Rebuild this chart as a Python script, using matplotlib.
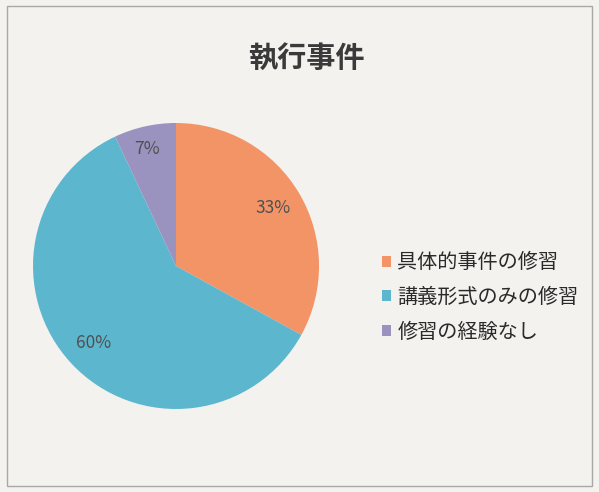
import matplotlib.pyplot as plt
from matplotlib.patches import Rectangle

plt.rcParams['font.family'] = ['Noto Sans CJK JP', 'DejaVu Sans']

title = "執行事件"
labels = ["具体的事件の修習", "講義形式のみの修習", "修習の経験なし"]
shares = [33, 60, 7]
colors = ["#F39467", "#5CB7CE", "#9A93C0"]

fig = plt.figure(figsize=(5.99, 4.92), dpi=100)
fig.patch.set_facecolor("#F3F2EE")
fig.patches.append(Rectangle((0.012, 0.012), 0.976, 0.976, transform=fig.transFigure,
                             fill=False, edgecolor="#A8A8A4", linewidth=1.0))

ax = fig.add_axes([0.0551, 0.1687, 0.4775, 0.5813])
wedges, texts, autotexts = ax.pie(shares, colors=colors, startangle=90, counterclock=False,
                                  autopct="%d%%", pctdistance=0.79,
                                  wedgeprops=dict(linewidth=0),
                                  textprops=dict(fontsize=12.5, color="#505050"))
autotexts[2].set_position((-0.2, 0.82))
ax.set_aspect("equal")
ax.set_xlim(-1, 1)
ax.set_ylim(-1, 1)

fig.text(0.512, 0.882, title, ha="center", va="center", fontsize=21, fontweight="bold", color="#3A3A3A")

leg = fig.legend(wedges, labels, loc="upper left", bbox_to_anchor=(0.608, 0.524),
                 frameon=False, fontsize=14.5, handlelength=0.45, handleheight=0.45,
                 handletextpad=0.3, labelspacing=0.68, labelcolor="#2A2A2A")

fig.savefig("out.png", dpi=100, facecolor=fig.get_facecolor())
